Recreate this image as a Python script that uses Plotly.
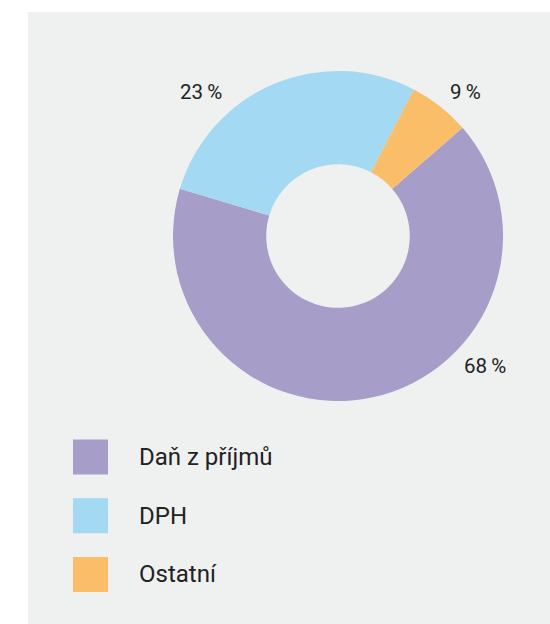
import plotly.graph_objects as go

# Data
categories = ["Daň z příjmů", "DPH", "Ostatní"]
values = [66, 28, 6]
label_texts = ["68\u2009%", "23\u2009%", "9\u2009%"]
colors = ["#a79dc9", "#a3d9f2", "#fabe68"]

W, H = 550, 624
BG = "#eff0f0"


def px_x(x):
    return x / W


def px_y(y):
    return 1 - y / H


cx, cy0, R = 338, 236, 165

fig = go.Figure()
fig.add_trace(go.Pie(
    labels=categories,
    values=values,
    hole=0.435,
    sort=False,
    direction="clockwise",
    rotation=49,
    marker=dict(colors=colors, line=dict(width=0)),
    textinfo="none",
    hoverinfo="label+percent",
    showlegend=False,
    domain=dict(x=[px_x(cx - R), px_x(cx + R)],
                y=[px_y(cy0 + R), px_y(cy0 - R)]),
))

# grey background panel
fig.add_shape(type="rect", xref="paper", yref="paper",
              x0=px_x(28), x1=1, y0=0, y1=px_y(12),
              fillcolor=BG, line=dict(width=0), layer="below")

# value labels
label_pos = [(485, 366), (201, 92), (465, 92)]
for txt, (lx, ly) in zip(label_texts, label_pos):
    fig.add_annotation(x=px_x(lx), y=px_y(ly), xref="paper", yref="paper",
                       text=txt, showarrow=False, xanchor="center", yanchor="middle",
                       font=dict(family="Roboto", size=20.5, color="#222222"))

# legend
for i, (cat, col) in enumerate(zip(categories, colors)):
    ly = 457 + i * 58.7
    fig.add_shape(type="rect", xref="paper", yref="paper",
                  x0=px_x(73), x1=px_x(108),
                  y0=px_y(ly + 17.5), y1=px_y(ly - 17.5),
                  fillcolor=col, line=dict(width=0))
    fig.add_annotation(x=px_x(137), y=px_y(ly), xref="paper", yref="paper",
                       text=cat, showarrow=False, xanchor="left", yanchor="middle",
                       font=dict(family="Roboto", size=24, color="#222222"))

fig.update_layout(
    width=W, height=H,
    margin=dict(l=0, r=0, t=0, b=0),
    paper_bgcolor="white",
    plot_bgcolor="white",
    showlegend=False,
)

fig.write_html(
    "out.html",
    config={"displayModeBar": False},
    post_script="document.body.style.margin='0';document.body.style.overflow='hidden';",
)
